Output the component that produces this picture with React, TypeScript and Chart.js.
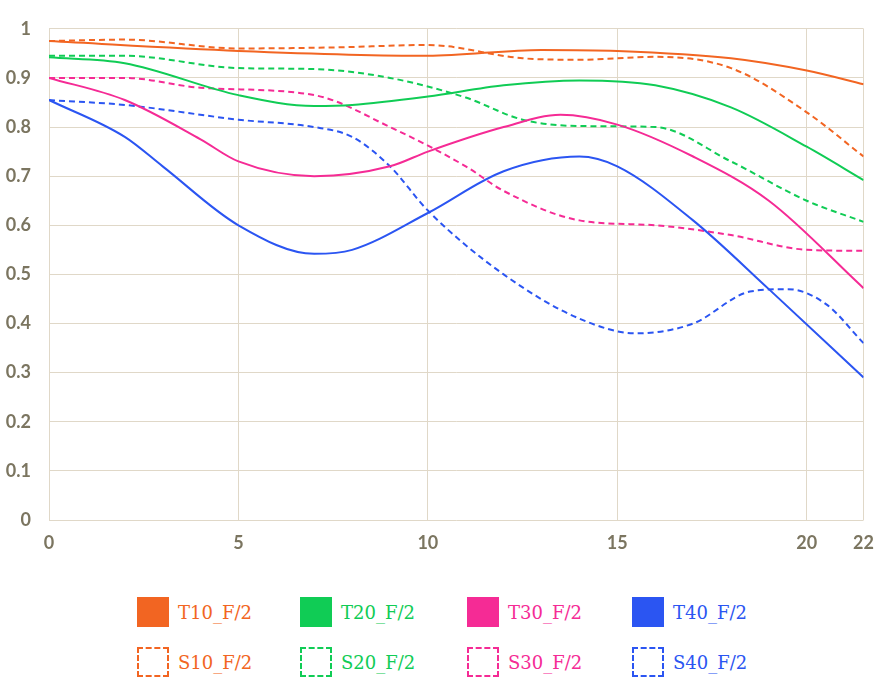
import React, { useEffect, useRef } from "react";
import Chart from "chart.js/auto";

const xTicks = [0, 5, 10, 15, 20, 21.5];
const xTickLabels = ["0", "5", "10", "15", "20", "22"];
const yTicks = [0, 0.1, 0.2, 0.3, 0.4, 0.5, 0.6, 0.7, 0.8, 0.9, 1];

const T10: [number, number][] = [[0,0.975],[5,0.955],[10,0.945],[13,0.957],[15,0.955],[18,0.94],[20,0.915],[21.5,0.887]];
const S10: [number, number][] = [[0,0.975],[2,0.978],[5,0.96],[7.5,0.962],[10,0.967],[12.5,0.94],[14,0.937],[16,0.943],[18,0.92],[20,0.83],[21.5,0.74]];
const T20: [number, number][] = [[0,0.942],[2,0.93],[5,0.865],[7,0.843],[8,0.845],[10,0.862],[12,0.885],[14,0.895],[16,0.885],[18,0.84],[20,0.76],[21.5,0.692]];
const S20: [number, number][] = [[0,0.945],[2,0.945],[5,0.92],[7,0.918],[9,0.9],[11,0.86],[12.5,0.815],[14,0.802],[16,0.8],[18,0.73],[20,0.65],[21.5,0.607]];
const T30: [number, number][] = [[0,0.9],[2,0.855],[4,0.775],[5,0.73],[7,0.7],[9,0.72],[10,0.75],[12,0.8],[13.5,0.825],[15,0.805],[17,0.74],[19,0.65],[21.5,0.472]];
const S30: [number, number][] = [[0,0.9],[2,0.9],[4,0.88],[7,0.865],[9,0.8],[11,0.72],[12,0.67],[14,0.61],[16,0.6],[18,0.58],[20,0.55],[21.5,0.548]];
const T40: [number, number][] = [[0,0.855],[2,0.78],[3,0.72],[5,0.6],[7,0.542],[8,0.55],[10,0.625],[12,0.71],[14,0.74],[15,0.72],[17,0.61],[19,0.47],[21.5,0.29]];
const S40: [number, number][] = [[0,0.855],[2,0.845],[5,0.815],[7,0.8],[8,0.78],[9,0.72],[10,0.63],[12,0.5],[14,0.41],[15.5,0.38],[17,0.4],[18.5,0.465],[19.5,0.47],[20.5,0.44],[21.5,0.36]];

const series = [
  { name: "T10_F/2", data: T10, color: "#f26522", dash: false },
  { name: "T20_F/2", data: T20, color: "#10cc55", dash: false },
  { name: "T30_F/2", data: T30, color: "#f52b95", dash: false },
  { name: "T40_F/2", data: T40, color: "#2b55f2", dash: false },
  { name: "S10_F/2", data: S10, color: "#f26522", dash: true },
  { name: "S20_F/2", data: S20, color: "#10cc55", dash: true },
  { name: "S30_F/2", data: S30, color: "#f52b95", dash: true },
  { name: "S40_F/2", data: S40, color: "#2b55f2", dash: true },
];

const tickColor = "#7b7560";
const gridColor = "#e0d8c8";

export default function App() {
  const ref = useRef<HTMLCanvasElement>(null);
  useEffect(() => {
    const chart = new Chart(ref.current!, {
      type: "line",
      data: {
        datasets: series.map((s) => ({
          label: s.name,
          data: s.data.map(([x, y]) => ({ x, y })),
          borderColor: s.color,
          backgroundColor: s.color,
          borderWidth: 2,
          borderDash: s.dash ? [6, 4] : [],
          pointRadius: 0,
          cubicInterpolationMode: "monotone" as const,
          fill: false,
        })),
      },
      options: {
        animation: false,
        responsive: false,
        layout: { padding: { top: 10, right: 4, left: 0, bottom: 0 } },
        plugins: { legend: { display: false }, tooltip: { enabled: false } },
        scales: {
          x: {
            type: "linear",
            min: 0,
            max: 21.5,
            afterBuildTicks: (ax: any) => { ax.ticks = xTicks.map((v) => ({ value: v })); },
            afterFit: (ax: any) => { ax.height = 40; },
            ticks: {
              color: tickColor,
              font: { family: "Lato", size: 18, weight: "bold" },
              padding: 12,
              maxRotation: 0,
              callback: (v: any) => xTickLabels[xTicks.indexOf(Number(v))] ?? "",
            },
            grid: { color: gridColor, drawTicks: false },
            border: { display: false },
          },
          y: {
            min: 0,
            max: 1,
            afterBuildTicks: (ax: any) => { ax.ticks = yTicks.map((v) => ({ value: v })); },
            afterFit: (ax: any) => { ax.width = 49; },
            ticks: {
              color: tickColor,
              font: { family: "Lato", size: 18, weight: "bold" },
              padding: 18,
              callback: (v: any) => String(Math.round(Number(v) * 10) / 10),
            },
            grid: { color: gridColor, drawTicks: false },
            border: { display: false },
          },
        },
      },
    });
    return () => chart.destroy();
  }, []);

  const legendCols = [137, 300, 467, 632];
  return (
    <div style={{ position: "absolute", left: 0, top: 0, width: 886, height: 678, background: "#fff" }}>
      <canvas ref={ref} width={886} height={560} style={{ position: "absolute", left: 0, top: 0 }} />
      {series.map((s, i) => {
        const col = i % 4;
        const row = Math.floor(i / 4);
        return (
          <div key={s.name} style={{ position: "absolute", left: legendCols[col], top: 597 + row * 50, display: "flex", alignItems: "center", fontFamily: "'DejaVu Serif', serif", fontSize: 18, color: s.color }}>
            <div style={{ width: s.dash ? 28 : 32, height: s.dash ? 26 : 30, background: s.dash ? "transparent" : s.color, border: s.dash ? `2px dashed ${s.color}` : "none", marginRight: 9 }} />
            <span>{s.name}</span>
          </div>
        );
      })}
    </div>
  );
}
